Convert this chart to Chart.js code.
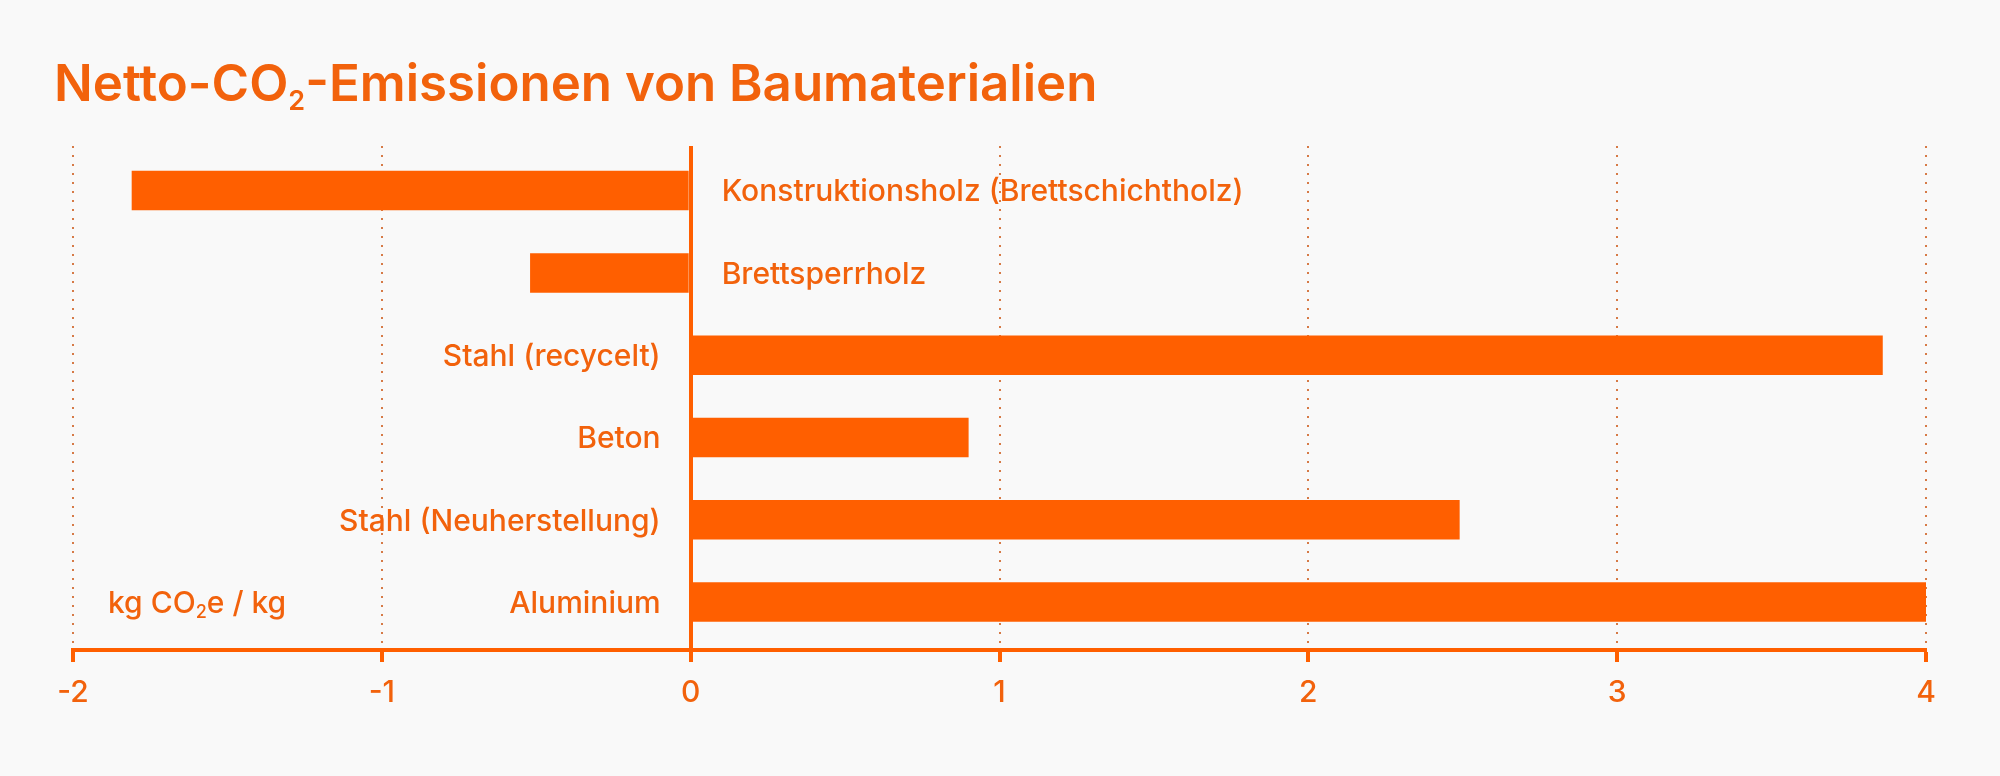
<!DOCTYPE html>
<html lang="de">
<head>
<meta charset="utf-8">
<title>Netto-CO2-Emissionen von Baumaterialien</title>
<script src="https://cdn.jsdelivr.net/npm/chart.js@4.4.1/dist/chart.umd.min.js"></script>
<style>
    html, body { margin: 0; padding: 0; background: #f9f9f9; }
    #wrap { width: 2000px; height: 776px; }
</style>
</head>
<body>
<div id="wrap"><canvas id="chart" width="2000" height="776"></canvas></div>
<script>
// Netto-CO2-Emissionen von Baumaterialien, in kg CO2e pro kg

const materials = [
    'Konstruktionsholz (Brettschichtholz)',
    'Brettsperrholz',
    'Stahl (recycelt)',
    'Beton',
    'Stahl (Neuherstellung)',
    'Aluminium'
];
const emissions = [-1.81, -0.52, 3.86, 0.90, 2.49, 4.00];
const xTicks = [-2, -1, 0, 1, 2, 3, 4];

const ORANGE = '#ff5f00';
const TEXT = '#f2620c';
const DOTS = '#d67a46';
const FONT = 'Inter, Roboto, sans-serif';

// draws text pieces one after another (used for the subscript 2)
function drawParts(ctx, parts, x, y) {
    ctx.textAlign = 'left';
    ctx.textBaseline = 'alphabetic';
    parts.forEach(p => {
        ctx.font = `${p.weight || 500} ${p.size}px ${FONT}`;
        ctx.fillText(p.text, x, y + (p.dy || 0));
        x += ctx.measureText(p.text).width;
    });
}

const labelPlugin = {
    id: 'barLabels',
    afterDatasetsDraw(chart) {
        const ctx = chart.ctx;
        const xScale = chart.scales.x;
        const zero = xScale.getPixelForValue(0);
        const bars = chart.getDatasetMeta(0).data;

        ctx.save();
        ctx.fillStyle = TEXT;
        ctx.font = `500 30px ${FONT}`;
        ctx.textBaseline = 'alphabetic';
        bars.forEach((bar, i) => {
            const neg = emissions[i] < 0;
            ctx.textAlign = neg ? 'left' : 'right';
            ctx.fillText(materials[i], neg ? zero + 31 : zero - 30, bar.y + 10.8);
        });

        // unit label next to the last row
        const last = bars[bars.length - 1];
        drawParts(ctx, [
            { text: 'kg CO', size: 30 },
            { text: '2', size: 18, dy: 5 },
            { text: 'e / kg', size: 30 }
        ], xScale.getPixelForValue(-2) + 35, last.y + 10.8);

        // title
        drawParts(ctx, [
            { text: 'Netto-CO', size: 51, weight: 600 },
            { text: '2', size: 27, dy: 9, weight: 600 },
            { text: '-Emissionen von Baumaterialien', size: 51, weight: 600 }
        ], 54, 101);
        ctx.restore();
    }
};

const chart = new Chart(document.getElementById('chart'), {
    type: 'bar',
    data: {
        datasets: [{
            data: emissions.map((v, i) => ({ x: v, y: i })),
            backgroundColor: ORANGE,
            borderWidth: 0,
            barPercentage: 0.48,
            categoryPercentage: 1
        }]
    },
    options: {
        indexAxis: 'y',
        responsive: false,
        animation: false,
        layout: { padding: { top: 146, left: 73, right: 74, bottom: 52 } },
        plugins: {
            legend: { display: false },
            tooltip: { enabled: false }
        },
        scales: {
            x: {
                type: 'linear',
                min: -2,
                max: 4,
                afterBuildTicks: scale => {
                    scale.ticks = xTicks.map(v => ({ value: v }));
                },
                grid: {
                    color: c => (c.tick && c.tick.value === 0) ? ORANGE : DOTS,
                    lineWidth: c => (c.tick && c.tick.value === 0) ? 4 : 2,
                    drawTicks: true,
                    tickLength: 12,
                    tickColor: ORANGE,
                    tickWidth: 4,
                    tickBorderDash: []
                },
                border: {
                    display: true,
                    color: ORANGE,
                    width: 4,
                    dash: c => (c.tick && c.tick.value !== 0) ? [2, 7] : []
                },
                ticks: {
                    color: TEXT,
                    font: { family: FONT, size: 30, weight: '500' },
                    padding: 13
                }
            },
            y: {
                type: 'linear',
                min: -0.542,
                max: 5.582,
                reverse: true,
                offset: false,
                grid: { offset: false },
                afterBuildTicks: scale => {
                    scale.ticks = materials.map((m, i) => ({ value: i }));
                },
                display: false
            }
        }
    },
    plugins: [labelPlugin]
});
</script>
</body>
</html>
